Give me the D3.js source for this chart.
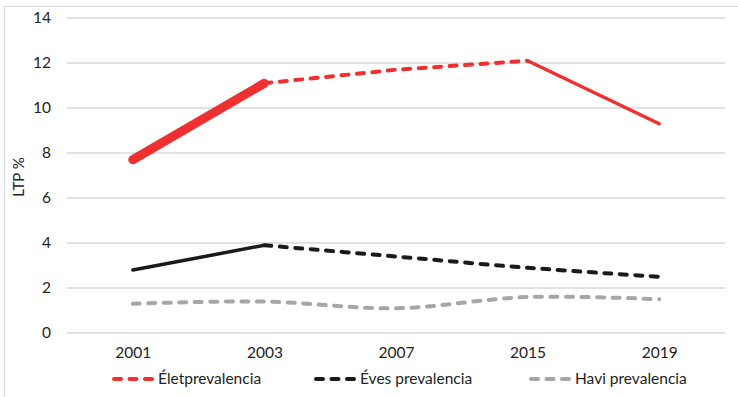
<!DOCTYPE html>
<html>
<head>
<meta charset="utf-8">
<script src="https://cdn.jsdelivr.net/npm/d3@7"></script>
<style>
  body { margin: 0; background: #fff; }
  text { font-family: Lato, "Open Sans", sans-serif; fill: #222; }
</style>
</head>
<body>
<script>
// data
var years = ["2001", "2003", "2007", "2015", "2019"];
var elet = [7.7, 11.1, 11.7, 12.1, 9.3];
var eves = [2.8, 3.9, 3.4, 2.9, 2.5];
var havi = [1.3, 1.4, 1.1, 1.6, 1.5];
var yTicks = [0, 2, 4, 6, 8, 10, 12, 14];
var seriesNames = ["Életprevalencia", "Éves prevalencia", "Havi prevalencia"];
var colors = ["#ee3030", "#1a1a1a", "#a6a6a6"];

var w = 738, h = 397;
var padLeft = 67, padRight = 725, padTop = 18, padBottom = 333;

var svg = d3.select("body").append("svg")
    .attr("width", w)
    .attr("height", h);

svg.append("rect")
    .attr("x", 4.5).attr("y", 6.5)
    .attr("width", w).attr("height", h)
    .attr("fill", "none")
    .attr("stroke", "#d9d9d9");

var x = d3.scalePoint()
    .domain(years)
    .range([padLeft, padRight])
    .padding(0.5);

var y = d3.scaleLinear()
    .domain([0, 14])
    .range([padBottom, padTop]);

// gridlines
svg.selectAll(".grid")
    .data(yTicks)
    .enter().append("line")
    .attr("class", "grid")
    .attr("x1", padLeft).attr("x2", padRight)
    .attr("y1", function (d) { return y(d) })
    .attr("y2", function (d) { return y(d) })
    .attr("stroke", "#d9d9d9")
    .attr("stroke-width", 1.3);

var yAxis = d3.axisLeft(y).tickValues(yTicks).tickSize(0).tickPadding(16);
svg.append("g")
    .attr("transform", "translate(" + padLeft + ",0)")
    .call(yAxis)
    .call(function (g) { g.select(".domain").remove() })
    .selectAll("text")
    .style("font-size", "15.5px")
    .attr("fill", "#222");

var xAxis = d3.axisBottom(x).tickSize(0).tickPadding(14);
svg.append("g")
    .attr("transform", "translate(0," + padBottom + ")")
    .call(xAxis)
    .call(function (g) { g.select(".domain").remove() })
    .selectAll("text")
    .style("font-size", "15.5px")
    .attr("fill", "#222");

svg.append("text")
    .attr("transform", "translate(24,177) rotate(-90)")
    .attr("text-anchor", "middle")
    .style("font-size", "15px")
    .text("LTP %");

function pts(vals, from, to) {
    var out = [];
    for (var i = from; i <= to; i++) out.push([x(years[i]), y(vals[i])]);
    return out;
}

var straight = d3.line();
var smooth = d3.line().curve(d3.curveCatmullRom.alpha(0.5));

// Havi: smoothed dashed gray
svg.append("path")
    .attr("d", smooth(pts(havi, 0, 4)))
    .attr("fill", "none")
    .attr("stroke", colors[2])
    .attr("stroke-width", 4)
    .attr("stroke-linecap", "round")
    .attr("stroke-dasharray", "7,8.5");

// Eves: solid then dashed
svg.append("path")
    .attr("d", straight(pts(eves, 0, 1)))
    .attr("fill", "none")
    .attr("stroke", colors[1])
    .attr("stroke-width", 3.5)
    .attr("stroke-linecap", "round");
svg.append("path")
    .attr("d", smooth(pts(eves, 1, 4)))
    .attr("fill", "none")
    .attr("stroke", colors[1])
    .attr("stroke-width", 4)
    .attr("stroke-linecap", "round")
    .attr("stroke-dasharray", "7,8.5");

// Elet: thick solid, dashed, solid
svg.append("path")
    .attr("d", straight(pts(elet, 0, 1)))
    .attr("fill", "none")
    .attr("stroke", colors[0])
    .attr("stroke-width", 9)
    .attr("stroke-linecap", "round");
svg.append("path")
    .attr("d", straight(pts(elet, 1, 3)))
    .attr("fill", "none")
    .attr("stroke", colors[0])
    .attr("stroke-width", 4)
    .attr("stroke-linecap", "round")
    .attr("stroke-dasharray", "7,8.5");
svg.append("path")
    .attr("d", straight(pts(elet, 3, 4)))
    .attr("fill", "none")
    .attr("stroke", colors[0])
    .attr("stroke-width", 3.5)
    .attr("stroke-linecap", "round");

// legend
var legX = [112, 314, 529];
var legend = svg.selectAll(".leg")
    .data(seriesNames)
    .enter().append("g")
    .attr("class", "leg")
    .attr("transform", function (d, i) { return "translate(" + legX[i] + ",379)" });

legend.append("line")
    .attr("x1", 2).attr("x2", 40)
    .attr("y1", 0).attr("y2", 0)
    .attr("stroke", function (d, i) { return colors[i] })
    .attr("stroke-width", 4)
    .attr("stroke-linecap", "round")
    .attr("stroke-dasharray", "7,8.5");

legend.append("text")
    .attr("x", 46)
    .attr("dy", "0.35em")
    .style("font-size", "15.5px")
    .text(function (d) { return d });
</script>
</body>
</html>
